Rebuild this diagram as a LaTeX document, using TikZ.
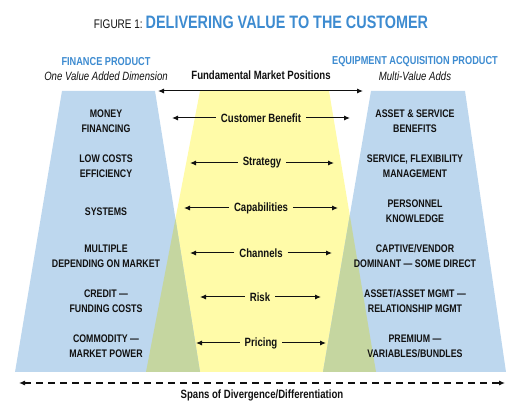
\documentclass[tikz,border=0pt]{standalone}
\usepackage{fontspec}
\setmainfont{Liberation Sans}[FakeStretch=0.8]
\usetikzlibrary{arrows.meta}
\definecolor{figBlue}{HTML}{3D8BD0}
\definecolor{panelBlue}{HTML}{BDD7EE}
\definecolor{panelYellow}{HTML}{FFFBA8}
\definecolor{panelGreen}{HTML}{C5D6A0}
\definecolor{ink}{HTML}{111111}

% Text macros for the heading
\newcommand{\figLead}[1]{{\fontsize{12.5}{14}\selectfont\color{ink}#1}}
\newcommand{\figTitle}[1]{{\fontsize{18}{20}\selectfont\bfseries\color{figBlue}#1}}

\begin{document}
\begin{tikzpicture}[
  x=1pt, y=-1pt,
  rowText/.style={
    font=\fontsize{11}{15}\selectfont\bfseries,
    align=center, inner sep=0pt, text=ink
  },
  posLabel/.style={
    font=\fontsize{12}{13}\selectfont\bfseries,
    inner sep=0pt, outer sep=5pt, text=ink
  },
  headTitle/.style={
    font=\fontsize{11.5}{13}\selectfont\bfseries,
    inner sep=0pt, text=figBlue
  },
  headSub/.style={
    font=\fontsize{12}{13}\selectfont\itshape,
    inner sep=0pt, text=ink
  },
  posArrow/.style={
    -{Latex[length=6pt,width=5pt]},
    line width=1pt, draw=ink
  },
  spanArrow/.style={
    {Latex[length=6pt,width=5pt]}-{Latex[length=6pt,width=5pt]},
    line width=1.1pt, draw=ink,
    dash pattern=on 7pt off 5pt
  }
]

% Fix the page to the 517 x 403 frame
\useasboundingbox (0,0) rectangle (517,403);

% Panel corners
\coordinate (lTL) at (62,91);   \coordinate (lTR) at (155,91);
\coordinate (lBL) at (15,372);  \coordinate (lBR) at (200,372);
\coordinate (yTL) at (200,91);  \coordinate (yTR) at (329,91);
\coordinate (yBL) at (146,372); \coordinate (yBR) at (376,372);
\coordinate (rTL) at (371,91);  \coordinate (rTR) at (465,91);
\coordinate (rBL) at (323,372); \coordinate (rBR) at (506,372);

% Panels
\fill[panelYellow] (yTL) -- (yTR) -- (yBR) -- (yBL) -- cycle;
\fill[panelBlue] (lTL) -- (lTR) -- (lBR) -- (lBL) -- cycle;
\fill[panelBlue] (rTL) -- (rTR) -- (rBR) -- (rBL) -- cycle;

% Overlaps
\fill[panelGreen] (intersection of yTL--yBL and lTR--lBR) -- (lBR) -- (yBL) -- cycle;
\fill[panelGreen] (intersection of yTR--yBR and rTL--rBL) -- (yBR) -- (rBL) -- cycle;

% Heading
\node[inner sep=0pt, anchor=base] (title) at (261,29) {%
  \figLead{FIGURE 1:} \figTitle{DELIVERING VALUE TO THE CUSTOMER}};

% Column heads
\node[headTitle] (finHead) at (106,62) {FINANCE PRODUCT};
\node[headSub] (finSub) at (106,76) {One Value Added Dimension};
\node[headTitle] (eqHead) at (415,62) {EQUIPMENT ACQUISITION PRODUCT};
\node[headSub] (eqSub) at (415,76) {Multi-Value Adds};

% Fundamental market positions
\node[posLabel, outer sep=0pt] (fmp) at (261,75) {Fundamental Market Positions};
\coordinate (fmpL) at (158,91);
\coordinate (fmpR) at (363,91);
\draw[posArrow, {Latex[length=6pt,width=5pt]}-{Latex[length=6pt,width=5pt]}] (fmpL) -- (fmpR);

% Left column
\node[rowText] (fin1) at (106,121.5) {MONEY\\FINANCING};
\node[rowText] (fin2) at (106,166.5) {LOW COSTS\\EFFICIENCY};
\node[rowText] (fin3) at (106,212) {SYSTEMS};
\node[rowText] (fin4) at (106,256) {MULTIPLE\\DEPENDING ON MARKET};
\node[rowText] (fin5) at (106,301.5) {CREDIT ---\\FUNDING COSTS};
\node[rowText] (fin6) at (106,346.5) {COMMODITY ---\\MARKET POWER};

% Right column
\node[rowText] (eq1) at (415,121.5) {ASSET \& SERVICE\\BENEFITS};
\node[rowText] (eq2) at (415,166) {SERVICE, FLEXIBILITY\\MANAGEMENT};
\node[rowText] (eq3) at (415,211.5) {PERSONNEL\\KNOWLEDGE};
\node[rowText] (eq4) at (415,256.5) {CAPTIVE/VENDOR\\DOMINANT --- SOME DIRECT};
\node[rowText] (eq5) at (415,301.5) {ASSET/ASSET MGMT ---\\RELATIONSHIP MGMT};
\node[rowText] (eq6) at (415,346.5) {PREMIUM ---\\VARIABLES/BUNDLES};

% Market positions with arrows out to both sides
\node[posLabel] (benefit) at (261,118) {Customer Benefit};
\coordinate (benefitL) at (172,118); \coordinate (benefitR) at (350,118);
\node[posLabel] (strategy) at (262,163) {Strategy};
\coordinate (strategyL) at (190,163); \coordinate (strategyR) at (334,163);
\node[posLabel] (capab) at (261,208) {Capabilities};
\coordinate (capabL) at (184,208); \coordinate (capabR) at (338,208);
\node[posLabel] (channels) at (261,253) {Channels};
\coordinate (channelsL) at (190,253); \coordinate (channelsR) at (332,253);
\node[posLabel] (risk) at (260,297) {Risk};
\coordinate (riskL) at (200,297); \coordinate (riskR) at (321,297);
\node[posLabel] (pricing) at (261,343) {Pricing};
\coordinate (pricingL) at (196,343); \coordinate (pricingR) at (326,343);

\draw[posArrow] (benefit.west) -- (benefitL);
\draw[posArrow] (benefit.east) -- (benefitR);
\draw[posArrow] (strategy.west) -- (strategyL);
\draw[posArrow] (strategy.east) -- (strategyR);
\draw[posArrow] (capab.west) -- (capabL);
\draw[posArrow] (capab.east) -- (capabR);
\draw[posArrow] (channels.west) -- (channelsL);
\draw[posArrow] (channels.east) -- (channelsR);
\draw[posArrow] (risk.west) -- (riskL);
\draw[posArrow] (risk.east) -- (riskR);
\draw[posArrow] (pricing.west) -- (pricingL);
\draw[posArrow] (pricing.east) -- (pricingR);

% Span of divergence
\coordinate (spanL) at (19,383);
\coordinate (spanR) at (505,383);
\draw[spanArrow] (spanL) -- (spanR);
\node[posLabel, outer sep=0pt] (spanText) at (262,395) {Spans of Divergence/Differentiation};

\end{tikzpicture}
\end{document}
